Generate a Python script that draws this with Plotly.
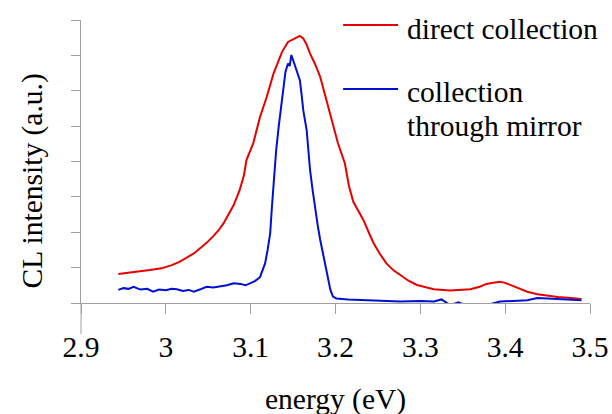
import plotly.graph_objects as go

# energy (eV) and CL intensity (a.u.)
red_x = [2.944, 2.960, 2.981, 2.995, 3.007, 3.016, 3.025, 3.033, 3.040, 3.048,
         3.056, 3.062, 3.068, 3.074, 3.080, 3.087, 3.092, 3.095, 3.103, 3.111,
         3.119, 3.127, 3.133, 3.137, 3.144, 3.150, 3.154, 3.158, 3.162, 3.166,
         3.170, 3.176, 3.182, 3.188, 3.194, 3.199, 3.203, 3.211, 3.216, 3.221,
         3.227, 3.233, 3.240, 3.245, 3.252, 3.260, 3.268, 3.276, 3.286, 3.296,
         3.306, 3.316, 3.335, 3.347, 3.359, 3.370, 3.378, 3.386, 3.394, 3.400,
         3.406, 3.415, 3.426, 3.438, 3.450, 3.462, 3.474, 3.482, 3.490]
red_y = [0.82, 0.86, 0.93, 0.98, 1.07, 1.16, 1.29, 1.40, 1.54, 1.70,
         1.89, 2.05, 2.25, 2.50, 2.77, 3.19, 3.60, 4.04, 4.51, 5.26,
         5.83, 6.49, 6.85, 7.10, 7.38, 7.45, 7.51, 7.55, 7.48, 7.30,
         7.05, 6.75, 6.39, 5.85, 5.26, 4.85, 4.51, 3.95, 3.29, 2.86,
         2.60, 2.34, 1.95, 1.69, 1.40, 1.12, 0.93, 0.79, 0.63, 0.51,
         0.44, 0.39, 0.35, 0.37, 0.39, 0.46, 0.54, 0.57, 0.60, 0.57,
         0.51, 0.42, 0.32, 0.25, 0.20, 0.17, 0.15, 0.13, 0.11]

blue_x = [2.944, 2.950, 2.956, 2.962, 2.970, 2.978, 2.985, 2.992, 3.000, 3.007,
          3.013, 3.020, 3.027, 3.033, 3.040, 3.048, 3.056, 3.064, 3.072, 3.080,
          3.088, 3.094, 3.099, 3.105, 3.111, 3.114, 3.117, 3.120, 3.123, 3.125,
          3.127, 3.130, 3.133, 3.137, 3.141, 3.144, 3.146, 3.148, 3.151, 3.154,
          3.158, 3.160, 3.162, 3.166, 3.170, 3.173, 3.176, 3.179, 3.182, 3.185,
          3.188, 3.191, 3.194, 3.197, 3.201, 3.215, 3.237, 3.255, 3.276, 3.300,
          3.316, 3.325, 3.335, 3.345, 3.355, 3.365, 3.378, 3.394, 3.410, 3.426,
          3.438, 3.450, 3.462, 3.474, 3.490]
blue_y = [0.37, 0.42, 0.40, 0.46, 0.38, 0.40, 0.32, 0.38, 0.36, 0.40,
          0.39, 0.34, 0.37, 0.32, 0.38, 0.46, 0.44, 0.47, 0.50, 0.56,
          0.54, 0.50, 0.56, 0.62, 0.73, 0.90, 1.12, 1.50, 1.97, 2.70,
          3.47, 4.30, 4.98, 5.83, 6.53, 6.77, 6.70, 7.01, 6.80, 6.58,
          6.30, 5.90, 5.45, 4.89, 3.76, 3.20, 2.63, 2.20, 1.78, 1.40,
          1.03, 0.70, 0.37, 0.18, 0.13, 0.10, 0.08, 0.06, 0.04, 0.06,
          0.04, 0.10, -0.06, 0.02, -0.08, -0.04, -0.06, 0.04, 0.05, 0.08,
          0.14, 0.13, 0.10, 0.10, 0.08]

x_ticks = [2.9, 3.0, 3.1, 3.2, 3.3, 3.4, 3.5]
x_tick_text = ["2.9", "3", "3.1", "3.2", "3.3", "3.4", "3.5"]

RED = "#e60000"
BLUE = "#0010d0"
AXIS = "#a0a0a0"
FONT = "Liberation Serif, Times New Roman, serif"
FS = 29.5

fig = go.Figure()
fig.add_trace(go.Scatter(x=red_x, y=red_y, mode="lines", name="direct collection",
                         line=dict(color=RED, width=2), showlegend=False))
fig.add_trace(go.Scatter(x=blue_x, y=blue_y, mode="lines", name="collection through mirror",
                         line=dict(color=BLUE, width=2), showlegend=False))

fig.update_layout(
    width=612, height=414,
    margin=dict(l=81, r=22, t=20, b=111, autoexpand=False),
    plot_bgcolor="white", paper_bgcolor="white",
    font=dict(family=FONT, size=FS, color="black"),
    xaxis=dict(range=[2.9, 3.5], tickvals=x_ticks, ticktext=x_tick_text,
               showgrid=False, zeroline=False, showline=True, linecolor=AXIS, linewidth=1,
               ticks="outside", ticklen=10, tickcolor=AXIS, tickwidth=1,
               tickfont=dict(family=FONT, size=FS, color="black"),
               ticklabelstandoff=8, automargin=False),
    yaxis=dict(range=[0, 8], dtick=1, showgrid=False, zeroline=False,
               showline=True, linecolor=AXIS, linewidth=1,
               ticks="outside", ticklen=9, tickcolor=AXIS, tickwidth=1,
               showticklabels=False, automargin=False),
)

# y-axis line extension below the x axis
fig.add_shape(type="line", xref="paper", yref="paper", x0=0, x1=0, y0=0, y1=-0.11,
              line=dict(color=AXIS, width=1))

# axis titles
fig.add_annotation(text="energy (eV)", xref="paper", yref="paper", x=0.5, y=-0.34,
                   xanchor="center", yanchor="middle", showarrow=False,
                   font=dict(family=FONT, size=FS))
fig.add_annotation(text="CL intensity (a.u.)", xref="paper", yref="paper", x=-0.096, y=0.43,
                   xanchor="center", yanchor="middle", showarrow=False, textangle=-90,
                   font=dict(family=FONT, size=FS))

# legend
fig.add_shape(type="line", xref="paper", yref="paper", x0=0.515, x1=0.623, y0=0.982, y1=0.982,
              line=dict(color=RED, width=2))
fig.add_shape(type="line", xref="paper", yref="paper", x0=0.515, x1=0.623, y0=0.756, y1=0.756,
              line=dict(color=BLUE, width=2))
for txt, yy in [("direct collection", 0.968), ("collection", 0.746), ("through mirror", 0.625)]:
    fig.add_annotation(text=txt, xref="paper", yref="paper", x=0.636, y=yy,
                       xanchor="left", yanchor="middle", showarrow=False,
                       font=dict(family=FONT, size=FS))

fig.write_html("out.html", config={"displayModeBar": False},
               post_script="document.body.style.margin='0';document.body.style.overflow='hidden';")
